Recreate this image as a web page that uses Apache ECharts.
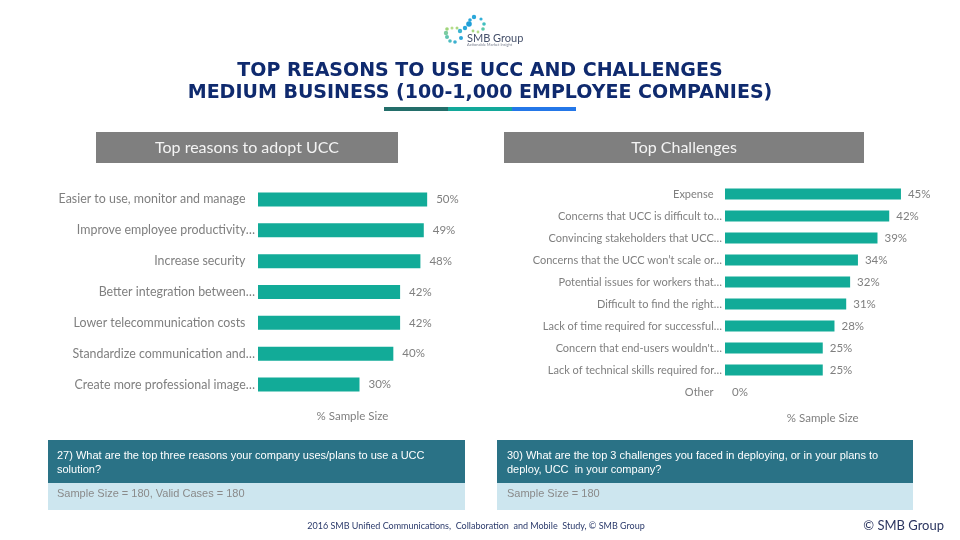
<!DOCTYPE html>
<html><head><meta charset="utf-8">
<script src="https://cdn.jsdelivr.net/npm/echarts@6/dist/echarts.min.js"></script>
<style>html,body{margin:0;padding:0;background:#fff;}#c{width:960px;height:540px;}</style>
</head><body><div id="c"></div>
<script>
const reasonCats = ["Easier to use, monitor and manage","Improve employee productivity…","Increase security","Better integration between…","Lower telecommunication costs","Standardize communication and…","Create more professional image…"];
const reasonVals = [50,49,48,42,42,40,30];
const challengeCats = ["Expense","Concerns that UCC is difficult to…","Convincing stakeholders that UCC…","Concerns that the UCC won’t scale or…","Potential issues for workers that…","Difficult to find the right…","Lack of time required for successful…","Concern that end-users wouldn't…","Lack of technical skills required for…","Other"];
const challengeVals = [45,42,39,34,32,31,28,25,25,0];
const titleLines = ["TOP REASONS TO USE UCC AND CHALLENGES","MEDIUM BUSINESS (100-1,000 EMPLOYEE COMPANIES)"];
const leftHeader = "Top reasons to adopt UCC";
const rightHeader = "Top Challenges";
const axisName = "% Sample Size";
const leftQuestion = ["27) What are the top three reasons your company uses/plans to use a UCC","solution?"];
const leftSample = "Sample Size = 180, Valid Cases = 180";
const rightQuestion = ["30) What are the top 3 challenges you faced in deploying, or in your plans to","deploy, UCC  in your company?"];
const rightSample = "Sample Size = 180";
const footer = "2016 SMB Unified Communications,  Collaboration  and Mobile  Study, © SMB Group";
const copyright = "© SMB Group";

const BAR = '#12ab98';
const GRAY = '#7f7f7f';
const padLabel = v => v.endsWith('…') ? v : v + '   ';

const chart = echarts.init(document.getElementById('c'), null, {renderer:'canvas'});

const logoDots = [
  [474,17,2.2,'#2aa7da'],[481,19,1.6,'#33b0d8'],[470,20,1.8,'#2aa7da'],[484,24,1.8,'#40bfc0'],
  [469,24,2.8,'#1f9fd8'],[483,29,1.8,'#5cc8a8'],[465,28,2.2,'#2aa7da'],[460,31,2.2,'#3cb4d0'],
  [457,28,1.5,'#a8d880'],[452,28,1.5,'#b6dd8a'],[447,29,1.8,'#9fd47a'],[446,33,2.2,'#7ccca0'],
  [447,37,2,'#60c4b0'],[450,41,1.8,'#4cbcc0'],[455,42,1.8,'#3cb0d0'],[461,38,2,'#2aa7da'],
  [473,31,1.4,'#a8d880'],[478,32,1.4,'#b6dd8a']
];

const graphics = [];
logoDots.forEach(d => graphics.push({type:'circle', shape:{cx:d[0], cy:d[1], r:d[2]}, style:{fill:d[3]}}));
graphics.push({type:'text', x:467, y:38, style:{text:'SMB Group', font:'11px Lato', fill:'#45506a', verticalAlign:'middle'}});
graphics.push({type:'text', x:467, y:45, style:{text:'Actionable Market Insight', font:'4px Lato', fill:'#7a8090', verticalAlign:'middle'}});
titleLines.forEach((t,i) => graphics.push({type:'text', x:480, y:71+i*22, style:{text:t, font:'bold 19px "DejaVu Sans"', fill:'#0f2a6e', align:'center', verticalAlign:'middle'}}));
[['#236e6a',384],['#13a89a',448],['#2477e8',512]].forEach(s => graphics.push({type:'rect', shape:{x:s[1], y:107, width:64, height:4}, style:{fill:s[0]}}));
graphics.push({type:'rect', shape:{x:96,y:132,width:302,height:31}, style:{fill:'#7f7f7f'}});
graphics.push({type:'text', x:247, y:148, style:{text:leftHeader, font:'16px Lato', fill:'#f4f4f4', align:'center', verticalAlign:'middle'}});
graphics.push({type:'rect', shape:{x:504,y:132,width:360,height:31}, style:{fill:'#7f7f7f'}});
graphics.push({type:'text', x:684, y:148, style:{text:rightHeader, font:'16px Lato', fill:'#f4f4f4', align:'center', verticalAlign:'middle'}});
[[48,417,leftQuestion,leftSample,57],[497,416,rightQuestion,rightSample,507]].forEach(b => {
  graphics.push({type:'rect', shape:{x:b[0],y:440,width:b[1],height:43}, style:{fill:'#2a7286'}});
  graphics.push({type:'rect', shape:{x:b[0],y:483,width:b[1],height:27}, style:{fill:'#cde6ef'}});
  b[2].forEach((l,i) => graphics.push({type:'text', x:b[4], y:456+i*14, style:{text:l, font:'11px "Liberation Sans"', fill:'#ffffff', verticalAlign:'middle'}}));
  graphics.push({type:'text', x:b[4], y:494, style:{text:b[3], font:'11px "Liberation Sans"', fill:'#8a8a8a', verticalAlign:'middle'}});
});
graphics.push({type:'text', x:476, y:526, style:{text:footer, font:'9px Lato', fill:'#2b3a6b', align:'center', verticalAlign:'middle'}});
graphics.push({type:'text', x:944, y:526, style:{text:copyright, font:'13px Lato', fill:'#2b3560', align:'right', verticalAlign:'middle'}});

const valLabel = (dist) => ({show:true, position:'right', distance:dist, color:GRAY, fontFamily:'Lato', fontSize:11.5, formatter: p => p.value + '%'});
const hiddenX = (idx, max, gap, pad) => ({type:'value', gridIndex:idx, min:0, max:max, axisLine:{show:false}, axisTick:{show:false}, axisLabel:{show:false}, splitLine:{show:false},
  name:axisName, nameLocation:'middle', nameGap:gap, nameTextStyle:{color:GRAY, fontFamily:'Lato', fontSize:11.5, padding:pad}});
const catY = (idx, cats, size) => ({type:'category', gridIndex:idx, data:cats, inverse:true, axisLine:{show:false}, axisTick:{show:false},
  axisLabel:{color:GRAY, fontFamily:'Lato', fontSize:size, margin:3, formatter:padLabel}});

chart.setOption({
  animation:false,
  graphic: graphics,
  grid:[
    {left:258, top:184, width:203, height:216, containLabel:false},
    {left:725, top:183, width:195.5, height:220, containLabel:false}
  ],
  xAxis:[hiddenX(0,60,10,[0,14,0,0]), hiddenX(1,50,9,[0,0,0,0])],
  yAxis:[catY(0,reasonCats,12.4), catY(1,challengeCats,11)],
  series:[
    {type:'bar', xAxisIndex:0, yAxisIndex:0, data:reasonVals, barWidth:14, itemStyle:{color:BAR}, label:valLabel(9)},
    {type:'bar', xAxisIndex:1, yAxisIndex:1, data:challengeVals, barWidth:11, itemStyle:{color:BAR}, label:valLabel(7)}
  ]
});
</script></body></html>
